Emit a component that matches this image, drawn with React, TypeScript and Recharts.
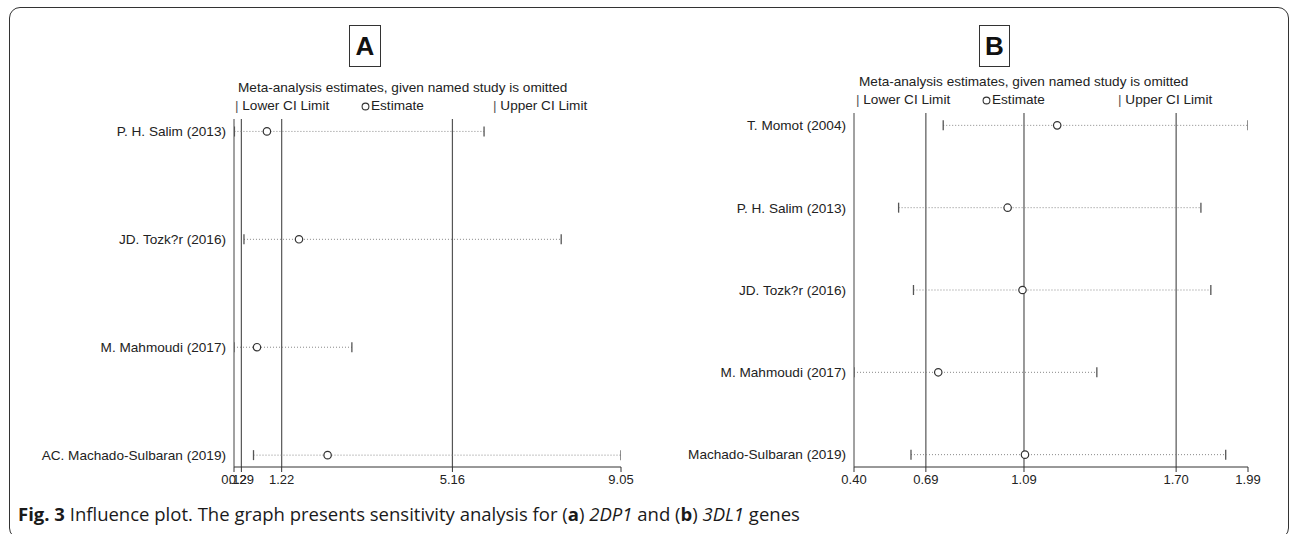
import React from 'react';
import { ComposedChart, Scatter, XAxis, YAxis, ReferenceLine } from 'recharts';

// Panel A (2DP1)
const studiesA = ['P. H. Salim (2013)', 'JD. Tozk?r (2016)', 'M. Mahmoudi (2017)', 'AC. Machado-Sulbaran (2019)'];
const estimateA = [0.88, 1.62, 0.65, 2.28];
const lowerA = [0.13, 0.35, 0.12, 0.57];
const upperA = [5.89, 7.67, 2.84, 9.05];
const ticksA = [0.12, 0.29, 1.22, 5.16, 9.05];
const refLinesA = [0.29, 1.22, 5.16];

// Panel B (3DL1)
const studiesB = ['T. Momot (2004)', 'P. H. Salim (2013)', 'JD. Tozk?r (2016)', 'M. Mahmoudi (2017)', 'Machado-Sulbaran (2019)'];
const estimateB = [1.22, 1.02, 1.08, 0.74, 1.09];
const lowerB = [0.76, 0.58, 0.64, 0.4, 0.63];
const upperB = [1.99, 1.8, 1.84, 1.38, 1.9];
const ticksB = [0.4, 0.69, 1.086, 1.7, 1.99];
const refLinesB = [0.69, 1.086, 1.7];

const FONT = '"Liberation Sans", Arial, Helvetica, sans-serif';
const LABEL_SIZE = 13.6;

function Cap(props: any) {
  const { cx, cy } = props;
  if (cx == null || cy == null) return <g />;
  return <line x1={cx} x2={cx} y1={cy - 5} y2={cy + 5} stroke="#555" strokeWidth={1.3} />;
}

function Est(props: any) {
  const { cx, cy } = props;
  if (cx == null || cy == null) return <g />;
  return <circle cx={cx} cy={cy} r={3.7} fill="#fff" stroke="#333" strokeWidth={1.2} />;
}

type PanelProps = {
  left: number;
  width: number;
  studies: string[];
  lower: number[];
  est: number[];
  upper: number[];
  ticks: number[];
  refs: number[];
  yDomain: [number, number];
  yAxisWidth: number;
  marginRight: number;
  marginTop: number;
};

function Panel(p: PanelProps) {
  const rows = p.studies.map((_, i) => [
    { x: p.lower[i], y: i + 1 },
    { x: p.upper[i], y: i + 1 },
  ]);
  const estData = p.est.map((v, i) => ({ x: v, y: i + 1 }));
  return (
    <div style={{ position: 'absolute', left: p.left, top: 0 }}>
      <ComposedChart
        width={p.width}
        height={534}
        margin={{ top: p.marginTop, right: p.marginRight, bottom: 0, left: 0 }}
      >
        <XAxis
          type="number"
          dataKey="x"
          domain={[p.ticks[0], p.ticks[p.ticks.length - 1]]}
          ticks={p.ticks}
          interval={0}
          allowDataOverflow
          tickFormatter={(v: number) => v.toFixed(2)}
          height={67}
          stroke="#333"
          tick={{ fontSize: 13, fill: '#222', fontFamily: FONT }}
          tickSize={5}
          tickMargin={3}
        />
        <YAxis
          type="number"
          dataKey="y"
          domain={p.yDomain}
          reversed
          ticks={p.studies.map((_, i) => i + 1)}
          interval={0}
          allowDataOverflow
          tickFormatter={(v: number) => p.studies[v - 1] ?? ''}
          width={p.yAxisWidth}
          tickLine={false}
          tickSize={0}
          tickMargin={8}
          stroke="#444"
          tick={{ fontSize: LABEL_SIZE, fill: '#222', fontFamily: FONT }}
        />
        {p.refs.map((r) => (
          <ReferenceLine key={r} x={r} stroke="#555" strokeWidth={1.2} />
        ))}
        {rows.map((d, i) => (
          <Scatter
            key={'row' + i}
            data={d}
            line={{ stroke: '#888', strokeDasharray: '1 2', strokeWidth: 1 }}
            shape={Cap}
            isAnimationActive={false}
          />
        ))}
        <Scatter data={estData} shape={Est} isAnimationActive={false} />
      </ComposedChart>
    </div>
  );
}

const textStyle: React.CSSProperties = {
  position: 'absolute',
  fontFamily: FONT,
  fontSize: LABEL_SIZE,
  lineHeight: '16px',
  color: '#222',
  whiteSpace: 'nowrap',
};

function Legend({ headerLeft, headerTop, lowLeft, estLeft, upLeft, rowTop }: any) {
  return (
    <>
      <div style={{ ...textStyle, left: headerLeft, top: headerTop }}>
        Meta-analysis estimates, given named study is omitted
      </div>
      <div style={{ ...textStyle, left: lowLeft, top: rowTop }}>
        <span style={{ color: '#555' }}>|</span> Lower CI Limit
      </div>
      <div style={{ ...textStyle, left: estLeft, top: rowTop }}>
        <svg width={9} height={9} style={{ verticalAlign: '-0.5px', marginRight: 1 }}>
          <circle cx={4.5} cy={4.5} r={3.4} fill="#fff" stroke="#333" strokeWidth={1.1} />
        </svg>
        Estimate
      </div>
      <div style={{ ...textStyle, left: upLeft, top: rowTop }}>
        <span style={{ color: '#555' }}>|</span> Upper CI Limit
      </div>
    </>
  );
}

function TitleBox({ left, width, label }: any) {
  return (
    <div
      style={{
        position: 'absolute',
        left,
        top: 25,
        width,
        height: 42,
        boxSizing: 'border-box',
        border: '1px solid #333',
        display: 'flex',
        alignItems: 'center',
        justifyContent: 'center',
        fontFamily: FONT,
        fontWeight: 'bold',
        fontSize: 26,
        color: '#111',
        background: '#fff',
      }}
    >
      {label}
    </div>
  );
}

export default function App() {
  return (
    <div
      style={{
        position: 'absolute',
        left: 0,
        top: 0,
        width: 1292,
        height: 534,
        overflow: 'hidden',
        background: '#fff',
      }}
    >
      <div
        style={{
          position: 'absolute',
          left: 9,
          top: 7,
          width: 1280,
          height: 532,
          boxSizing: 'border-box',
          border: '1.6px solid #333',
          borderRadius: 11,
        }}
      />
      <Panel
        left={0}
        width={646}
        studies={studiesA}
        lower={lowerA}
        est={estimateA}
        upper={upperA}
        ticks={ticksA}
        refs={refLinesA}
        yDomain={[0.885, 4.11]}
        yAxisWidth={234}
        marginRight={25}
        marginTop={119}
      />
      <Panel
        left={646}
        width={646}
        studies={studiesB}
        lower={lowerB}
        est={estimateB}
        upper={upperB}
        ticks={ticksB}
        refs={refLinesB}
        yDomain={[0.85, 5.15]}
        yAxisWidth={208}
        marginRight={44}
        marginTop={113}
      />
      <TitleBox left={349} width={32} label="A" />
      <TitleBox left={979} width={31} label="B" />
      <Legend headerLeft={238} headerTop={80} lowLeft={235} estLeft={361} upLeft={493} rowTop={98} />
      <Legend headerLeft={859} headerTop={74} lowLeft={856} estLeft={982} upLeft={1118} rowTop={92} />
      <div
        style={{
          position: 'absolute',
          left: 18,
          top: 502,
          fontFamily: '"Open Sans", sans-serif',
          fontSize: 18.5,
          lineHeight: '24px',
          color: '#1a1a1a',
          whiteSpace: 'nowrap',
        }}
      >
        <b>Fig. 3</b> Influence plot. The graph presents sensitivity analysis for (<b>a</b>) <i>2DP1</i> and (
        <b>b</b>) <i>3DL1</i> genes
      </div>
    </div>
  );
}
